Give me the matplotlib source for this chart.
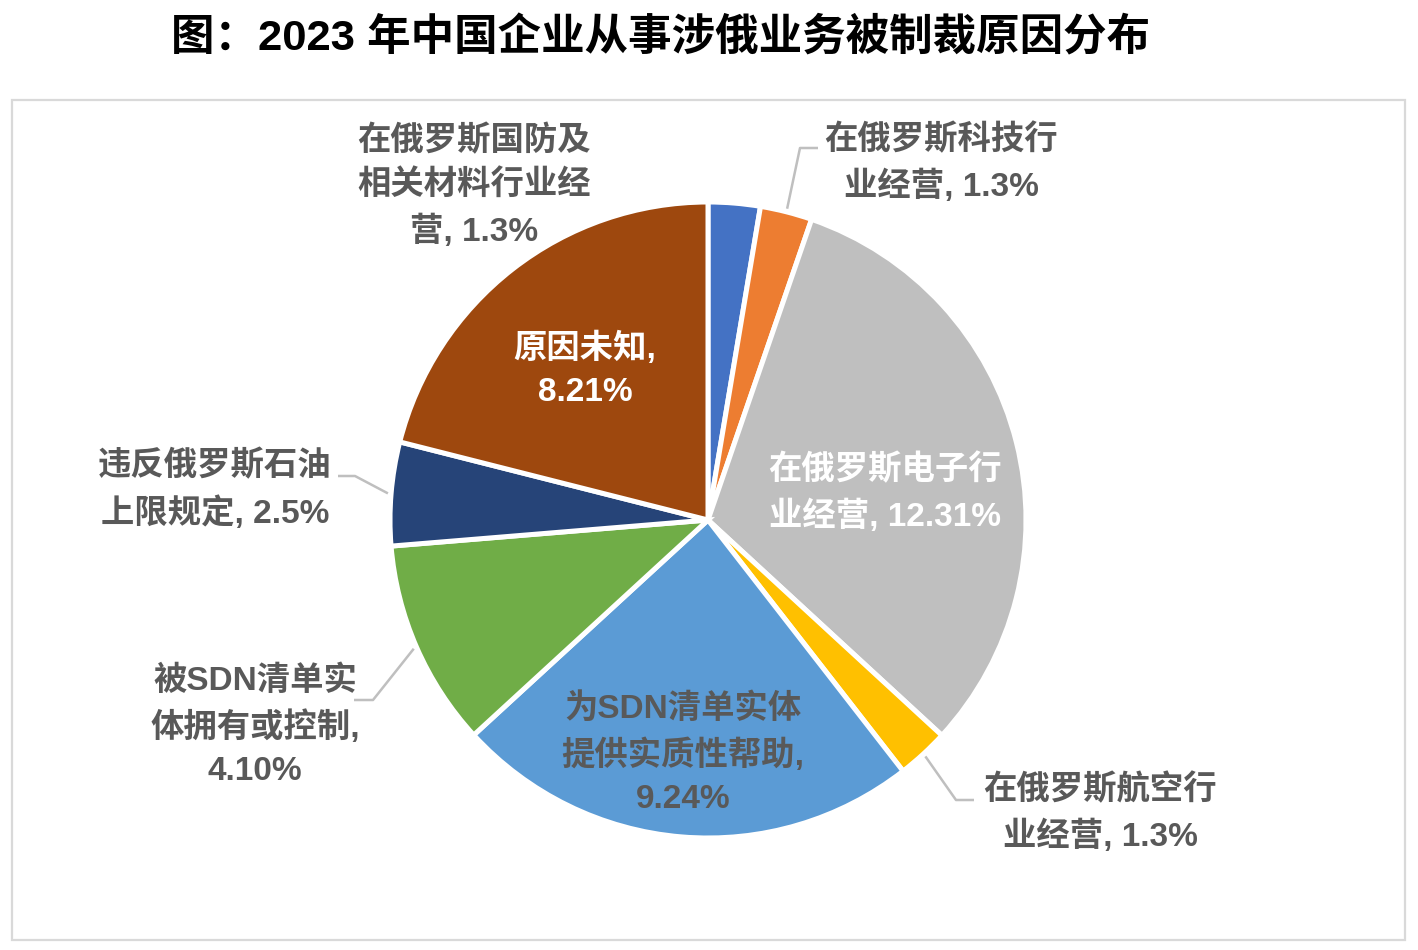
import matplotlib.pyplot as plt
from matplotlib.patches import Rectangle
import numpy as np

plt.rcParams['font.family'] = ['Liberation Sans', 'Noto Sans CJK SC', 'DejaVu Sans']

labels = ["在俄罗斯国防及\n相关材料行业经\n营", "在俄罗斯科技行\n业经营", "在俄罗斯电子行\n业经营",
          "在俄罗斯航空行\n业经营", "为SDN清单实体\n提供实质性帮助,\n", "被SDN清单实\n体拥有或控制,\n",
          "违反俄罗斯石油\n上限规定", "原因未知,\n"]
# slice sizes
values = [1.03, 1.03, 12.31, 1.03, 9.24, 4.10, 2.05, 8.21]
# percentages as printed on the labels
value_text = ["1.3%", "1.3%", "12.31%", "1.3%", "9.24%", "4.10%", "2.5%", "8.21%"]
colors = ["#4472C4", "#ED7D31", "#BFBFBF", "#FFC000", "#5B9BD5", "#70AD47", "#264478", "#9E480E"]
text_colors = ["#595959", "#595959", "white", "#595959", "#595959", "#595959", "#595959", "white"]

# label placement (pixel coords, y from top)
label_pos = [(474, 186), (941, 163), (885, 493), (1100, 813), (683, 754), (255, 726), (215, 490), (585, 370)]
# leader lines: elbow point and end point, None = no leader
leaders = [None, [(800, 148), (818, 148)], None, [(956, 800), (974, 800)], None,
           [(373, 700), (354, 700)], [(355, 476), (338, 476)], None]

W, H = 1418, 950
cx, cy, R = 708, 520, 318

fig = plt.figure(figsize=(W / 100, H / 100), dpi=100)
ax = fig.add_axes([0, 0, 1, 1])

wedges, _ = ax.pie(values, colors=colors, startangle=90, counterclock=False,
                   center=(cx, H - cy), radius=R,
                   wedgeprops=dict(edgecolor="white", linewidth=3.6))
ax.set_xlim(0, W)
ax.set_ylim(0, H)
ax.axis("off")

for i, w in enumerate(wedges):
    x, y = label_pos[i]
    if labels[i].endswith("\n"):
        txt = labels[i] + value_text[i]
    else:
        txt = labels[i] + ", " + value_text[i]
    ax.text(x, H - y, txt, ha="center", va="center", fontsize=24, fontweight="bold",
            color=text_colors[i], linespacing=1.5)
    if leaders[i] is not None:
        ang = np.deg2rad((w.theta1 + w.theta2) / 2)
        ax0 = cx + R * 1.01 * np.cos(ang)
        ay0 = (H - cy) + R * 1.01 * np.sin(ang)
        xs = [ax0] + [p[0] for p in leaders[i]]
        ys = [ay0] + [H - p[1] for p in leaders[i]]
        ax.plot(xs, ys, color="#BFBFBF", linewidth=1.8, solid_capstyle="butt")

ax.add_patch(Rectangle((12, H - 940), 1393, 840, fill=False, edgecolor="#D9D9D9", linewidth=1.6))

fig.text(661 / W, 1 - 38 / H, "图：2023 年中国企业从事涉俄业务被制裁原因分布", ha="center", va="center",
         fontsize=31.3, fontweight="bold", color="black")

fig.savefig("out.png", dpi=100)
